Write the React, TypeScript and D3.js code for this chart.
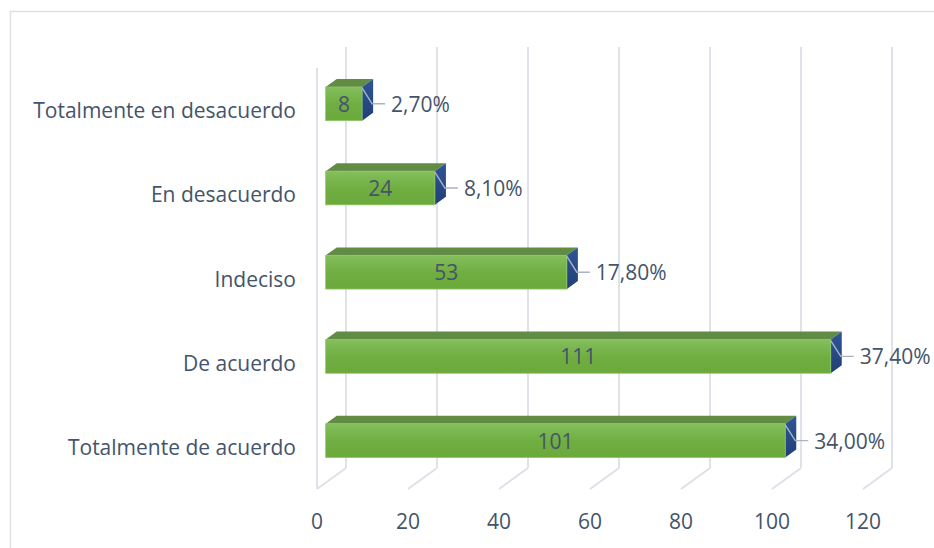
import React from "react";
import * as d3 from "d3";

const categories = [
  "Totalmente en desacuerdo",
  "En desacuerdo",
  "Indeciso",
  "De acuerdo",
  "Totalmente de acuerdo",
];
const counts = [8, 24, 53, 111, 101];
const percents = ["2,70%", "8,10%", "17,80%", "37,40%", "34,00%"];
const xTicks = [0, 20, 40, 60, 80, 100, 120];

const W = 934;
const H = 548;
const FONT = "'Open Sans', sans-serif";
const FS = 21;
const TEXT = "#44546a";
const GRID = "#dcdfe7";

export default function App() {
  const x = d3.scaleLinear().domain([0, 120]).range([317, 863]);
  const y = d3
    .scaleBand<string>()
    .domain(categories)
    .range([68, 489])
    .paddingInner(0.6)
    .paddingOuter(0.3);
  const DX = 29;
  const DY = -21;
  const floorY = 489;
  const topY = 68;
  const f0 = 0.3;
  const f1 = 0.68;

  return (
    <svg
      width={W}
      height={H}
      style={{ position: "absolute", left: 0, top: 0, background: "#fff" }}
    >
      <defs>
        <linearGradient id="gFront" x1="0" y1="0" x2="0" y2="1">
          <stop offset="0" stopColor="#84bf5c" />
          <stop offset="0.5" stopColor="#71ae42" />
          <stop offset="1" stopColor="#6ca93b" />
        </linearGradient>
        <linearGradient id="gSide" x1="0" y1="0" x2="0" y2="1">
          <stop offset="0" stopColor="#2f5597" />
          <stop offset="1" stopColor="#213f77" />
        </linearGradient>
      </defs>
      <rect x={10.5} y={11.5} width={W} height={H} fill="none" stroke="#dde1e8" strokeWidth={1.5} />

      {/* back wall gridlines and floor */}
      {xTicks.map((t) => (
        <g key={t}>
          <line
            x1={x(t) + DX}
            x2={x(t) + DX}
            y1={topY + DY}
            y2={floorY + DY}
            stroke={GRID}
            strokeWidth={1.8}
          />
          <line
            x1={x(t) + DX}
            x2={x(t)}
            y1={floorY + DY}
            y2={floorY}
            stroke={GRID}
            strokeWidth={1.8}
          />
          <text
            x={x(t)}
            y={521}
            textAnchor="middle"
            dominantBaseline="central"
            fontFamily={FONT}
            fontSize={FS}
            fill={TEXT}
          >
            {t}
          </text>
        </g>
      ))}
      <line x1={x(0)} x2={x(0)} y1={topY} y2={floorY} stroke={GRID} strokeWidth={1.8} />

      {/* category labels */}
      {categories.map((c) => (
        <text
          key={c}
          x={296}
          y={(y(c) as number) + y.bandwidth() / 2}
          textAnchor="end"
          dominantBaseline="central"
          fontFamily={FONT}
          fontSize={FS}
          fill={TEXT}
        >
          {c}
        </text>
      ))}

      {/* bars */}
      {categories.map((c, i) => {
        const v = counts[i];
        const yt = y(c) as number;
        const yb = yt + y.bandwidth();
        const ax = DX * f0,
          ay = DY * f0;
        const bx = DX * f1,
          by = DY * f1;
        const xl = x(0) + ax;
        const xr = x(v) + ax;
        const ft = yt + ay;
        const fb = yb + ay;
        const ddx = bx - ax;
        const ddy = by - ay;
        const cy = (ft + fb) / 2;
        return (
          <g key={c}>
            <polygon
              points={`${xl},${ft} ${xl + ddx},${ft + ddy} ${xr + ddx},${ft + ddy} ${xr},${ft}`}
              fill="#628b44"
            />
            <polygon
              points={`${xr},${ft} ${xr + ddx},${ft + ddy} ${xr + ddx},${fb + ddy} ${xr},${fb}`}
              fill="url(#gSide)"
            />
            <rect x={xl} y={ft} width={xr - xl} height={fb - ft} fill="url(#gFront)" />
            <rect x={xl} y={ft} width={xr - xl} height={fb - ft} fill="none" stroke="#8cc46a" strokeWidth={0.8} />
            <text
              x={(xl + xr) / 2}
              y={cy}
              textAnchor="middle"
              dominantBaseline="central"
              fontFamily={FONT}
              fontSize={FS}
              fill={TEXT}
            >
              {v}
            </text>
            <polyline
              points={`${xr},${ft + 1} ${xr + 10},${cy} ${xr + 23},${cy}`}
              fill="none"
              stroke="#a9b4c4"
              strokeWidth={1.4}
            />
            <text
              x={xr + 29}
              y={cy}
              dominantBaseline="central"
              fontFamily={FONT}
              fontSize={FS}
              fill={TEXT}
            >
              {percents[i]}
            </text>
          </g>
        );
      })}
    </svg>
  );
}
